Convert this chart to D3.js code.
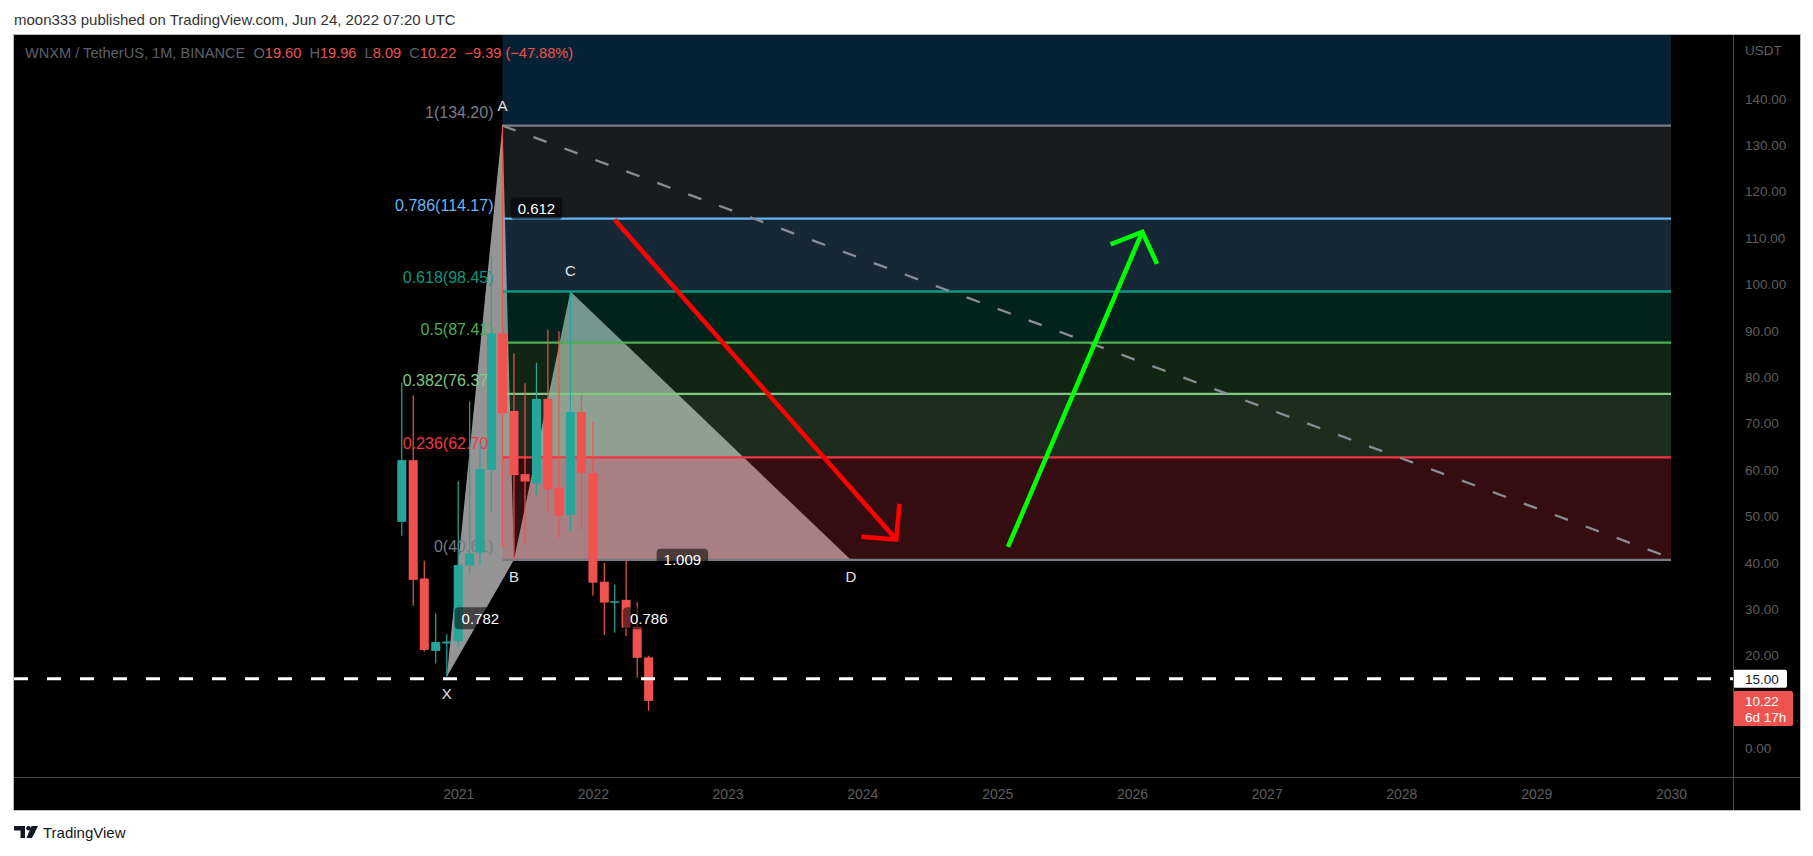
<!DOCTYPE html>
<html><head><meta charset="utf-8">
<script src="https://cdn.jsdelivr.net/npm/d3@7"></script>
<style>
html,body{margin:0;padding:0;background:#fff;}
svg{display:block;font-family:"Liberation Sans",Arial,sans-serif;}
.pre{white-space:pre;}
</style></head><body>
<svg id="c" width="1813" height="856"></svg>
<script>
// ---------------- data ----------------
const months = ["2020-08-01","2020-09-01","2020-10-01","2020-11-01","2020-12-01","2021-01-01","2021-02-01","2021-03-01","2021-04-01","2021-05-01","2021-06-01","2021-07-01","2021-08-01","2021-09-01","2021-10-01","2021-11-01","2021-12-01","2022-01-01","2022-02-01","2022-03-01","2022-04-01","2022-05-01","2022-06-01"];
const open  = [48.8,62.1,36.6,21.0,22.6,23.1,39.4,42.2,60.0,89.4,72.7,59.1,57.1,75.3,56.2,50.3,72.5,59.3,35.9,31.5,32.0,26.2,19.60];
const high  = [78.8,76.1,40.4,29.1,24.6,57.6,74.8,65.7,106.1,134.2,85.1,78.7,83.1,90.2,89.9,98.45,76.1,70.4,40.0,35.3,40.7,31.5,19.96];
const low   = [45.8,30.7,20.8,18.3,15.4,21.8,37.7,39.5,51.0,43.5,40.61,44.2,54.6,51.0,45.4,46.7,46.9,32.9,24.4,24.9,24.2,15.2,8.09];
const close = [62.1,36.3,21.2,22.9,23.0,39.5,42.0,60.2,89.4,72.2,58.9,57.5,75.3,55.8,50.1,72.5,59.4,35.7,31.4,31.7,26.0,19.5,10.22];

const fibRatios = [1.618, 1, 0.786, 0.618, 0.5, 0.382, 0.236, 0];
const fibValues = [192.04, 134.20, 114.17, 98.45, 87.41, 76.37, 62.70, 40.61];
const fibColors = ["#2196f3","#787b86","#64b5f6","#089981","#4caf50","#81c784","#f23645","#787b86"];
const fibRange = ["2021-05-01","2030-01-01"];

const patternNames  = ["X","A","B","C","D"];
const patternDates  = ["2020-12-01","2021-05-01","2021-06-01","2021-11-01","2023-12-01"];
const patternValues = [15.4, 134.2, 40.61, 98.45, 40.61];
const ratioFrom   = ["X","A","B","X"];
const ratioTo     = ["B","C","D","D"];
const ratioLabels = ["0.782","0.612","1.009","0.786"];

const trendDates  = ["2021-05-01","2030-01-01"];
const trendValues = [134.2, 41.0];

const redArrowDates   = ["2023-12-30","2024-04-02","2024-04-11"];
const redArrowValues  = [45.6, 45.0, 52.7];
const redArrowTail    = ["2022-03-01", 113.9];
const greenArrowDates  = ["2025-11-04","2026-01-29","2026-03-10"];
const greenArrowValues = [108.6, 111.3, 104.4];
const greenArrowTail   = ["2025-01-30", 43.4];

const hLineValue = 15.00;
const lastPrice = 10.22;
const countdown = "6d 17h";
const priceTicks = [0,10,20,30,40,50,60,70,80,90,100,110,120,130,140];
const yearTicks = [2021,2022,2023,2024,2025,2026,2027,2028,2029,2030];

const headerText = "moon333 published on TradingView.com, Jun 24, 2022 07:20 UTC";
const symbolText = "WNXM / TetherUS, 1M, BINANCE";
const ohlcLetters = ["O","H","L","C"];
const ohlcValues = ["19.60","19.96","8.09","10.22"];
const changeText = "\u22129.39 (\u221247.88%)";

// ---------------- setup ----------------
const parse = d3.utcParse("%Y-%m-%d");
const svg = d3.select("#c");
const L = 14, R = 1733, T = 35, B = 777, AX = 1800, AB = 810;
const x = d3.scaleUtc().domain([Date.UTC(2017,8,15), Date.UTC(2030,5,18)]).range([L, R]);
const y = d3.scaleLinear().domain([-6.185, 153.73]).range([B, T]);
const UP = "#26a69a", DOWN = "#ef5350";

svg.append("rect").attr("x",L).attr("y",T).attr("width",AX-L).attr("height",AB-T).attr("fill","#000");

svg.append("defs").append("clipPath").attr("id","plot")
  .append("rect").attr("x",L).attr("y",T).attr("width",R-L).attr("height",B-T);
const g = svg.append("g").attr("clip-path","url(#plot)");

// pattern points
const P = {};
patternNames.forEach((n,i)=>{ P[n] = [x(parse(patternDates[i])), y(patternValues[i])]; });

// triangles
const tri = [["X","A","B"],["B","C","D"]];
g.selectAll("polygon.tri").data(tri).join("polygon").attr("class","tri")
  .attr("points", d => d.map(n => P[n].join(",")).join(" "))
  .attr("fill","#949494");

// fib bands
const fx0 = x(parse(fibRange[0])), fx1 = x(parse(fibRange[1]));
const bands = d3.range(fibValues.length-1);
g.selectAll("rect.band").data(bands).join("rect").attr("class","band")
  .attr("x",fx0).attr("width",fx1-fx0)
  .attr("y", i => y(fibValues[i]))
  .attr("height", i => y(fibValues[i+1]) - y(fibValues[i]))
  .attr("fill", i => fibColors[i]).attr("fill-opacity",0.22);
g.selectAll("line.fib").data(fibValues).join("line").attr("class","fib")
  .attr("x1",fx0).attr("x2",fx1)
  .attr("y1", d=>y(d)).attr("y2", d=>y(d))
  .attr("stroke",(d,i)=>fibColors[i]).attr("stroke-width",2.3);
g.selectAll("text.fibl").data(fibValues.slice(1)).join("text").attr("class","fibl")
  .attr("x", fx0 - 9).attr("y", d => y(d) - 8)
  .attr("text-anchor","end").attr("font-size",16)
  .attr("fill",(d,i)=>fibColors[i+1])
  .text((d,i)=> `${fibRatios[i+1]}(${d.toFixed(2)})`);

// candles
const bars = months.map((m,i)=>({t:parse(m),o:open[i],h:high[i],l:low[i],c:close[i]}));
const cg = g.append("g");
cg.selectAll("line.wick").data(bars).join("line").attr("class","wick")
  .attr("x1",d=>x(d.t)).attr("x2",d=>x(d.t))
  .attr("y1",d=>y(d.h)).attr("y2",d=>y(d.l))
  .attr("stroke",d=>d.c>=d.o?UP:DOWN).attr("stroke-width",1.2);
cg.selectAll("rect.body").data(bars).join("rect").attr("class","body")
  .attr("x",d=>x(d.t)-4.5).attr("width",9)
  .attr("y",d=>y(Math.max(d.o,d.c)))
  .attr("height",d=>Math.max(1.5, Math.abs(y(d.o)-y(d.c))))
  .attr("fill",d=>d.c>=d.o?UP:DOWN);

// ratio labels
ratioLabels.forEach((lab,i)=>{
  const a = P[ratioFrom[i]], b = P[ratioTo[i]];
  const mx = (a[0]+b[0])/2, my = (a[1]+b[1])/2;
  const w = lab.length*8.3 + 10;
  g.append("rect").attr("x",mx-w/2).attr("y",my-11).attr("width",w).attr("height",22)
    .attr("rx",4).attr("fill","#000").attr("fill-opacity",0.55);
  g.append("text").attr("x",mx).attr("y",my+5.5).attr("text-anchor","middle")
    .attr("font-size",15).attr("fill","#ffffff").text(lab);
});

// point labels
const above = {A:true, C:true};
patternNames.forEach(n=>{
  g.append("text").attr("x",P[n][0]).attr("y", above[n] ? P[n][1]-15 : P[n][1]+22)
    .attr("text-anchor","middle").attr("font-size",15).attr("fill","#e0e3eb").text(n);
});

// trend line
g.append("line")
  .attr("x1",x(parse(trendDates[0]))).attr("y1",y(trendValues[0]))
  .attr("x2",x(parse(trendDates[1]))).attr("y2",y(trendValues[1]))
  .attr("stroke","#8a8d96").attr("stroke-width",2.3).attr("stroke-dasharray","14,19");

// horizontal 15 line
g.append("line").attr("x1",L).attr("x2",R).attr("y1",y(hLineValue)).attr("y2",y(hLineValue))
  .attr("stroke","#fff").attr("stroke-width",3).attr("stroke-dasharray","14,19");

// arrows
function arrow(tail, headDates, headValues, color){
  const tip = [x(parse(headDates[1])), y(headValues[1])];
  g.append("line").attr("x1",x(parse(tail[0]))).attr("y1",y(tail[1]))
    .attr("x2",tip[0]).attr("y2",tip[1]).attr("stroke",color).attr("stroke-width",4.6);
  g.append("path").attr("d", d3.line()(headDates.map((d,i)=>[x(parse(d)), y(headValues[i])])))
    .attr("fill","none").attr("stroke",color).attr("stroke-width",4.6).attr("stroke-linejoin","miter");
}
arrow(redArrowTail, redArrowDates, redArrowValues, "#ff0000");
arrow(greenArrowTail, greenArrowDates, greenArrowValues, "#00ff00");

// ---------------- axes ----------------
const AXC = "#5d5d5d";
const ya = svg.append("g").attr("transform",`translate(${R},0)`)
  .call(d3.axisRight(y).tickValues(priceTicks).tickSize(0).tickPadding(12).tickFormat(d=>d.toFixed(2)));
ya.select(".domain").remove();
ya.selectAll("text").attr("fill",AXC).attr("font-size",13.5).attr("font-family","Liberation Sans, Arial, sans-serif");
svg.append("text").attr("x",R+12).attr("y",55).attr("font-size",13.5).attr("fill",AXC).text("USDT");

const xa = svg.append("g").attr("transform",`translate(0,${B})`)
  .call(d3.axisBottom(x).tickValues(yearTicks.map(v=>new Date(Date.UTC(v,0,1)))).tickSize(0).tickPadding(12).tickFormat(d3.utcFormat("%Y")));
xa.select(".domain").remove();
xa.selectAll("text").attr("fill",AXC).attr("font-size",14).attr("font-family","Liberation Sans, Arial, sans-serif");

// price labels on axis
const yh = y(hLineValue);
svg.append("rect").attr("x",R).attr("y",yh-9).attr("width",54).attr("height",18).attr("fill","#fff").attr("rx",2);
svg.append("text").attr("x",R+12).attr("y",yh+5).attr("font-size",13.5).attr("fill","#131722").text(hLineValue.toFixed(2));
const yl = y(lastPrice);
svg.append("rect").attr("x",R).attr("y",yl-10).attr("width",60).attr("height",35).attr("fill","#ef5350").attr("rx",2);
svg.append("text").attr("x",R+12).attr("y",yl+5).attr("font-size",13.5).attr("fill","#fff").text(lastPrice.toFixed(2));
svg.append("text").attr("x",R+12).attr("y",yl+21).attr("font-size",13.5).attr("fill","#fff").text(countdown);

// frame
svg.append("line").attr("x1",R+0.5).attr("x2",R+0.5).attr("y1",T).attr("y2",AB).attr("stroke","#4a4a4a");
svg.append("line").attr("x1",L).attr("x2",AX).attr("y1",B+0.5).attr("y2",B+0.5).attr("stroke","#4a4a4a");
svg.append("rect").attr("x",L-0.5).attr("y",T-0.5).attr("width",AX-L+1).attr("height",AB-T+1)
  .attr("fill","none").attr("stroke","#b9bbc0");

// header / legend
svg.append("text").attr("x",14).attr("y",25).attr("font-size",15).attr("fill","#333").text(headerText);
const st = svg.append("text").attr("class","pre").attr("x",25).attr("y",58).attr("font-size",14.6).attr("fill","#5d606b");
st.append("tspan").text(symbolText + "  ");
ohlcLetters.forEach((l,i)=>{
  st.append("tspan").attr("fill","#5d606b").text(l);
  st.append("tspan").attr("fill","#ef5350").text(ohlcValues[i] + "  ");
});
st.append("tspan").attr("fill","#ef5350").text(changeText);

// footer logo
const lg = svg.append("g").attr("fill","#131722");
lg.append("path").attr("d","M14,826 h11 v12 h-4.5 v-7.5 h-6.5 z");
lg.append("circle").attr("cx",28.5).attr("cy",828.3).attr("r",2.3);
lg.append("path").attr("d","M31.5,826 h6.5 l-6,12 h-5.5 z");
svg.append("text").attr("x",43).attr("y",838).attr("font-size",15).attr("fill","#131722").text("TradingView");
</script>
</body></html>
